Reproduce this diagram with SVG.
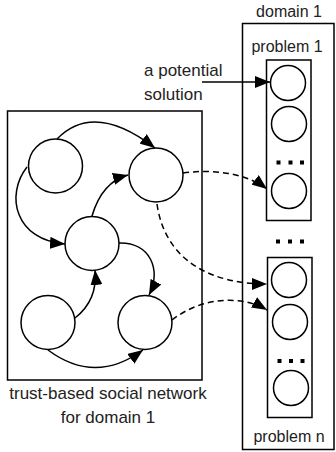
<svg xmlns="http://www.w3.org/2000/svg" width="336" height="452" viewBox="0 0 336 452">
<defs>
<marker id="ah" markerUnits="userSpaceOnUse" markerWidth="15" markerHeight="12" refX="15" refY="6" orient="auto">
<path d="M0,0 L15,6 L0,12 z" fill="#000"/>
</marker>
<style>
.box{fill:none;stroke:#000;stroke-width:1.5}
.nd{fill:#fff;stroke:#000;stroke-width:1.5}
.e{fill:none;stroke:#000;stroke-width:1.5;marker-end:url(#ah)}
.d{fill:none;stroke:#000;stroke-width:1.5;stroke-dasharray:6,4;marker-end:url(#ah)}
.t{font-family:"Liberation Sans",Arial,sans-serif;font-size:16px;fill:#222}
.t2{font-family:"Liberation Sans",Arial,sans-serif;font-size:17px;fill:#222}
.dot{fill:#000}
</style>
</defs>
<rect x="0" y="0" width="336" height="452" fill="#fff"/>
<g id="domain">
<rect class="box" x="242.5" y="23.5" width="91.5" height="426"/>
<text class="t" x="289" y="17" text-anchor="middle">domain 1</text>
</g>
<g id="problem1">
<rect class="box" x="266.5" y="60" width="44.5" height="160.5"/>
<text class="t" x="287" y="52" text-anchor="middle">problem 1</text>
<circle class="nd" cx="288" cy="83" r="17.5"/>
<circle class="nd" cx="289" cy="124" r="17.5"/>
<rect class="dot" x="276.5" y="160.5" width="4" height="4"/>
<rect class="dot" x="288.5" y="160.5" width="4" height="4"/>
<rect class="dot" x="300" y="160.5" width="4" height="4"/>
<circle class="nd" cx="289" cy="191" r="17.5"/>
</g>
<g id="between-dots">
<rect class="dot" x="276" y="239.5" width="4" height="4"/>
<rect class="dot" x="288" y="239.5" width="4" height="4"/>
<rect class="dot" x="300" y="239.5" width="4" height="4"/>
</g>
<g id="problemn">
<rect class="box" x="267.5" y="257.5" width="44.5" height="160"/>
<text class="t" x="289" y="442" text-anchor="middle">problem n</text>
<circle class="nd" cx="289" cy="280" r="17.5"/>
<circle class="nd" cx="290" cy="322" r="17.5"/>
<rect class="dot" x="277.5" y="359" width="4" height="4"/>
<rect class="dot" x="289" y="359" width="4" height="4"/>
<rect class="dot" x="300.5" y="359" width="4" height="4"/>
<circle class="nd" cx="291" cy="388" r="17.5"/>
</g>
<g id="label-solution">
<text class="t2" x="144" y="76">a potential</text>
<text class="t2" x="144" y="100">solution</text>
</g>
<g id="network">
<rect class="box" x="7.5" y="111" width="194.5" height="269"/>
<text class="t2" x="108" y="399" text-anchor="middle">trust-based social network</text>
<text class="t2" x="108" y="423" text-anchor="middle">for domain 1</text>
</g>
<g id="connectors">
<path class="e" d="M202,82 L270,82"/>
<path class="e" d="M57,139 Q94,101 155,148"/>
<path class="e" d="M27,167 C5,195 15,240 65,244"/>
<path class="e" d="M92,216 Q102,182 128,175"/>
<path class="e" d="M119,243 C150,242 162,270 149,295"/>
<path class="e" d="M75,318 Q98,300 95,270"/>
<path class="e" d="M48,350 Q95,385 143,350"/>
<path class="d" d="M183,173 C220,168 250,176 267,189"/>
<path class="d" d="M157,204 C165,260 210,284 267,284"/>
<path class="d" d="M172,320 C200,298 240,294 267,310"/>
</g>
<g id="nA"><circle class="nd" cx="55.5" cy="166" r="27"/></g>
<g id="nB"><circle class="nd" cx="156" cy="175" r="27"/></g>
<g id="nC"><circle class="nd" cx="92" cy="243.5" r="27"/></g>
<g id="nD"><circle class="nd" cx="48" cy="322.5" r="27"/></g>
<g id="nE"><circle class="nd" cx="145" cy="322.5" r="27"/></g>
</svg>
